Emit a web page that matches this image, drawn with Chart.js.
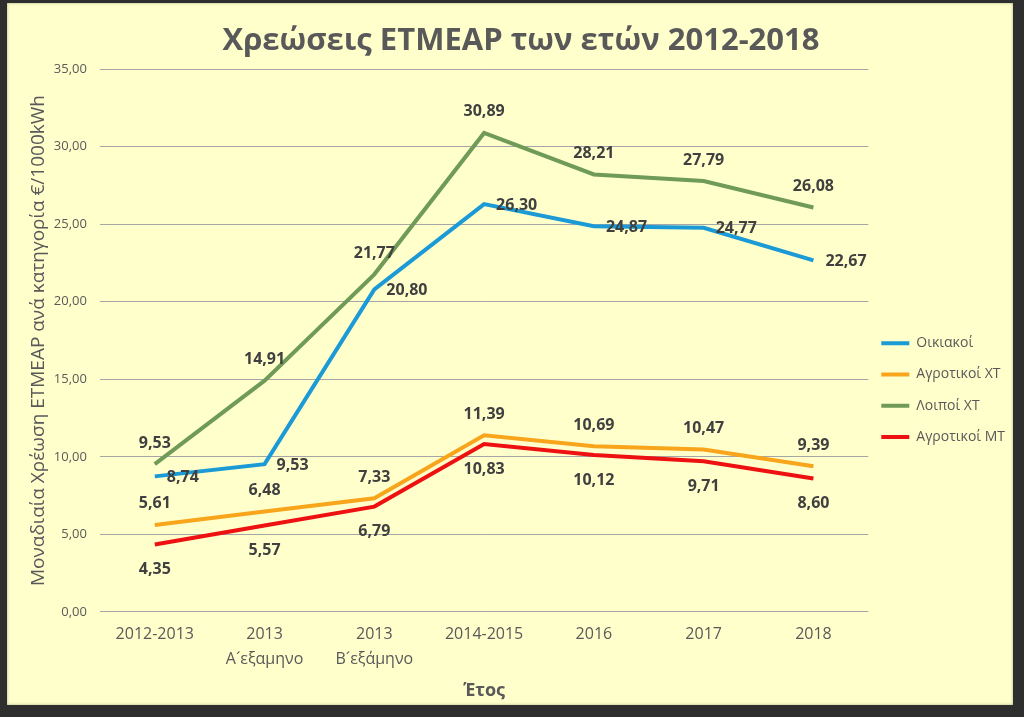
<!DOCTYPE html>
<html>
<head>
<meta charset="utf-8">
<script src="https://cdn.jsdelivr.net/npm/chart.js@4.4.1/dist/chart.umd.min.js"></script>
<style>
  html, body { margin: 0; padding: 0; }
  body { width: 1024px; height: 717px; background: #2e2e2e; position: relative; overflow: hidden; }
  #frame {
    position: absolute; left: 7px; top: 3px; width: 1006px; height: 702px;
    background: #FFFFCC;
    box-shadow: inset 0 0 3px rgba(0,0,0,0.35);
  }
  #chart { display: block; }
</style>
</head>
<body>
<div id="frame"><canvas id="chart" width="1006" height="702"></canvas></div>
<script>
  const categories = ['2012-2013', ['2013', 'Α\u00B4εξαμηνο'], ['2013', 'Β\u00B4εξάμηνο'], '2014-2015', '2016', '2017', '2018'];
  const oikiakoi = [8.74, 9.53, 20.80, 26.30, 24.87, 24.77, 22.67];
  const agrotikoiXT = [5.61, 6.48, 7.33, 11.39, 10.69, 10.47, 9.39];
  const loipoiXT = [9.53, 14.91, 21.77, 30.89, 28.21, 27.79, 26.08];
  const agrotikoiMT = [4.35, 5.57, 6.79, 10.83, 10.12, 9.71, 8.60];
  const yTicks = [0, 5, 10, 15, 20, 25, 30, 35];

  const textGray = '#595959';
  const fmt = v => Number(v).toFixed(2).replace('.', ',');

  // label placement per series, Excel-like
  const labelPos = ['right', 'above', 'above', 'below'];

  const dataLabels = {
    id: 'dataLabels',
    afterDatasetsDraw(chart) {
      const ctx = chart.ctx;
      ctx.save();
      ctx.font = 'bold 16px "Open Sans", sans-serif';
      ctx.fillStyle = '#404040';
      chart.data.datasets.forEach((ds, i) => {
        const meta = chart.getDatasetMeta(i);
        meta.data.forEach((pt, j) => {
          const txt = fmt(ds.data[j]);
          const pos = labelPos[i];
          ctx.textBaseline = 'middle';
          if (pos === 'right') {
            ctx.textAlign = 'left';
            ctx.fillText(txt, pt.x + 12, pt.y + 1);
          } else if (pos === 'above') {
            ctx.textAlign = 'center';
            ctx.fillText(txt, pt.x, pt.y - 21);
          } else {
            ctx.textAlign = 'center';
            ctx.fillText(txt, pt.x, pt.y + 25);
          }
        });
      });
      ctx.restore();
    }
  };

  function series(label, data, color) {
    return {
      label, data,
      borderColor: color,
      backgroundColor: color,
      borderWidth: 4,
      pointRadius: 0,
      tension: 0,
      fill: false
    };
  }

  new Chart(document.getElementById('chart'), {
    type: 'line',
    data: {
      labels: categories,
      datasets: [
        series('Οικιακοί', oikiakoi, '#1B9AD6'),
        series('Αγροτικοί ΧΤ', agrotikoiXT, '#F8A51C'),
        series('Λοιποί ΧΤ', loipoiXT, '#6F9A57'),
        series('Αγροτικοί ΜΤ', agrotikoiMT, '#EE1111')
      ]
    },
    options: {
      responsive: false,
      animation: false,
      layout: { padding: { top: 0, left: 20, right: -2, bottom: 2 } },
      plugins: {
        title: {
          display: true,
          text: 'Χρεώσεις ETMEAP των ετών 2012-2018',
          color: textGray,
          font: { family: '"Open Sans", sans-serif', size: 31, weight: 'bold' },
          padding: { top: 20, bottom: 9 }
        },
        legend: {
          position: 'right',
          align: 'center',
          title: {
            display: true,
            text: ' ',
            font: { size: 12 },
            padding: { top: 64, bottom: 0 }
          },
          labels: {
            color: textGray,
            font: { family: '"Open Sans", sans-serif', size: 14, lineHeight: 1.3 },
            usePointStyle: true,
            pointStyle: 'line',
            pointStyleWidth: 28,
            padding: 13,
            // array text makes the item height follow the font line height
            generateLabels: chart => Chart.defaults.plugins.legend.labels.generateLabels(chart)
              .map(item => Object.assign(item, { text: [item.text] }))
          }
        },
        tooltip: { enabled: false }
      },
      scales: {
        x: {
          offset: true,
          grid: { display: false, drawTicks: false },
          border: { display: false },
          ticks: {
            color: textGray,
            font: { family: '"Open Sans", sans-serif', size: 16, lineHeight: 1.56 },
            padding: 10.5,
            maxRotation: 0
          },
          title: {
            display: true,
            text: 'Έτος',
            color: textGray,
            font: { family: '"Open Sans", sans-serif', size: 18, weight: 'bold', lineHeight: 0.9 },
            padding: { top: 0 }
          }
        },
        y: {
          min: 0,
          max: 35,
          afterBuildTicks: axis => { axis.ticks = yTicks.map(v => ({ value: v })); },
          grid: { color: '#A6A6A6', lineWidth: 1, drawTicks: false },
          border: { display: false },
          ticks: {
            color: textGray,
            font: { family: '"Open Sans", sans-serif', size: 13 },
            padding: 13,
            callback: v => fmt(v)
          },
          title: {
            display: true,
            text: 'Μοναδιαία Χρέωση ETMEAP ανά κατηγορία €/1000kWh',
            color: textGray,
            font: { family: '"Open Sans", sans-serif', size: 19 },
            padding: { top: 0, bottom: -9 }
          }
        }
      }
    },
    plugins: [dataLabels]
  });
</script>
</body>
</html>
